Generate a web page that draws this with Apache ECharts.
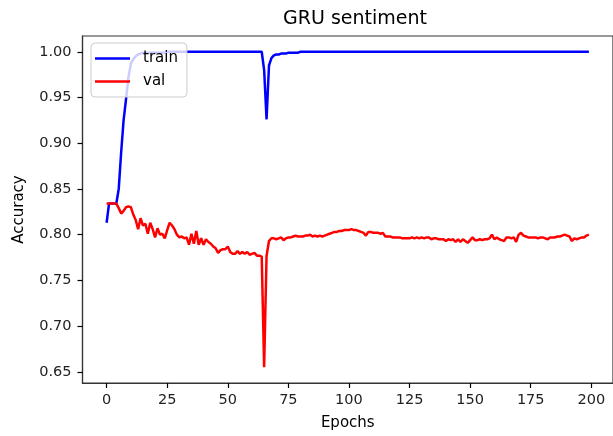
<!DOCTYPE html>
<html>
<head>
<meta charset="utf-8">
<title>GRU sentiment</title>
<script src="https://cdn.jsdelivr.net/npm/echarts@6/dist/echarts.min.js"></script>
<style>
  html, body { margin: 0; padding: 0; background: #fff; }
  #main { width: 613px; height: 436px; }
</style>
</head>
<body>
<div id="main"></div>
<script>
// accuracy per epoch
var trainAcc = [
  0.813, 0.834, 0.834, 0.834, 0.834, 0.850, 0.890, 0.925, 0.948, 0.972,
  0.987, 0.992, 0.995, 0.997, 0.998, 0.999, 0.999, 0.999, 0.999, 0.999,
  0.999, 0.999, 0.999, 0.999, 0.999, 1.000, 1.000, 1.000, 1.000, 1.000,
  1.000, 1.000, 1.000, 1.000, 1.000, 1.000, 1.000, 1.000, 1.000, 1.000,
  1.000, 1.000, 1.000, 1.000, 1.000, 1.000, 1.000, 1.000, 1.000, 1.000,
  1.000, 1.000, 1.000, 1.000, 1.000, 1.000, 1.000, 1.000, 1.000, 1.000,
  1.000, 1.000, 1.000, 1.000, 1.000, 0.980, 0.926, 0.985, 0.993, 0.996,
  0.997, 0.997, 0.998, 0.998, 0.998, 0.999, 0.999, 0.999, 0.999, 0.999,
  1.000, 1.000, 1.000, 1.000, 1.000, 1.000, 1.000, 1.000, 1.000, 1.000,
  1.000, 1.000, 1.000, 1.000, 1.000, 1.000, 1.000, 1.000, 1.000, 1.000,
  1.000, 1.000, 1.000, 1.000, 1.000, 1.000, 1.000, 1.000, 1.000, 1.000,
  1.000, 1.000, 1.000, 1.000, 1.000, 1.000, 1.000, 1.000, 1.000, 1.000,
  1.000, 1.000, 1.000, 1.000, 1.000, 1.000, 1.000, 1.000, 1.000, 1.000,
  1.000, 1.000, 1.000, 1.000, 1.000, 1.000, 1.000, 1.000, 1.000, 1.000,
  1.000, 1.000, 1.000, 1.000, 1.000, 1.000, 1.000, 1.000, 1.000, 1.000,
  1.000, 1.000, 1.000, 1.000, 1.000, 1.000, 1.000, 1.000, 1.000, 1.000,
  1.000, 1.000, 1.000, 1.000, 1.000, 1.000, 1.000, 1.000, 1.000, 1.000,
  1.000, 1.000, 1.000, 1.000, 1.000, 1.000, 1.000, 1.000, 1.000, 1.000,
  1.000, 1.000, 1.000, 1.000, 1.000, 1.000, 1.000, 1.000, 1.000, 1.000,
  1.000, 1.000, 1.000, 1.000, 1.000, 1.000, 1.000, 1.000, 1.000, 1.000
];
var valAcc = [
  0.834, 0.834, 0.834, 0.834, 0.834, 0.829, 0.823, 0.826, 0.830, 0.831,
  0.830, 0.822, 0.816, 0.806, 0.818, 0.810, 0.812, 0.801, 0.813, 0.806,
  0.797, 0.807, 0.800, 0.801, 0.796, 0.805, 0.813, 0.810, 0.806, 0.800,
  0.797, 0.798, 0.796, 0.797, 0.789, 0.801, 0.790, 0.804, 0.789, 0.796,
  0.789, 0.795, 0.792, 0.790, 0.787, 0.785, 0.780, 0.783, 0.784, 0.784,
  0.787, 0.781, 0.779, 0.779, 0.782, 0.779, 0.781, 0.779, 0.781, 0.778,
  0.779, 0.780, 0.777, 0.777, 0.776, 0.655, 0.777, 0.793, 0.796, 0.796,
  0.795, 0.796, 0.797, 0.794, 0.796, 0.797, 0.797, 0.798, 0.799, 0.798,
  0.798, 0.798, 0.799, 0.799, 0.800, 0.798, 0.799, 0.798, 0.799, 0.798,
  0.799, 0.800, 0.801, 0.802, 0.803, 0.803, 0.804, 0.804, 0.805, 0.805,
  0.805, 0.806, 0.805, 0.805, 0.804, 0.803, 0.802, 0.799, 0.803, 0.803,
  0.802, 0.802, 0.802, 0.801, 0.802, 0.798, 0.798, 0.798, 0.797, 0.797,
  0.797, 0.797, 0.796, 0.796, 0.796, 0.796, 0.797, 0.796, 0.797, 0.796,
  0.797, 0.796, 0.797, 0.797, 0.795, 0.796, 0.796, 0.795, 0.795, 0.795,
  0.793, 0.795, 0.794, 0.795, 0.792, 0.795, 0.792, 0.795, 0.793, 0.791,
  0.794, 0.797, 0.794, 0.794, 0.795, 0.794, 0.795, 0.795, 0.796, 0.800,
  0.795, 0.797, 0.795, 0.794, 0.793, 0.797, 0.797, 0.796, 0.797, 0.792,
  0.800, 0.802, 0.799, 0.798, 0.797, 0.797, 0.797, 0.797, 0.796, 0.797,
  0.797, 0.796, 0.795, 0.797, 0.797, 0.797, 0.798, 0.798, 0.799, 0.800,
  0.799, 0.798, 0.793, 0.796, 0.795, 0.796, 0.797, 0.797, 0.799, 0.800
];
var xTicks = [0, 25, 50, 75, 100, 125, 150, 175, 200];
var yTicks = [0.65, 0.70, 0.75, 0.80, 0.85, 0.90, 0.95, 1.00];

function pairs(vals) {
  return vals.map(function (v, i) { return [i, v]; });
}

var font = 'DejaVu Sans';
var spine = { color: '#333', width: 1.2 };
var myChart = echarts.init(document.getElementById('main'));

option = {
  backgroundColor: '#fff',
  animation: false,
  title: {
    text: 'GRU sentiment',
    left: 350,
    textAlign: 'center',
    top: 5,
    textStyle: { fontFamily: font, fontSize: 19, fontWeight: 'normal', color: '#000' }
  },
  legend: {
    orient: 'vertical',
    left: 91,
    top: 43,
    padding: [7, 9, 7, 4],
    itemGap: 6,
    itemWidth: 35,
    itemHeight: 2.5,
    icon: 'rect',
    backgroundColor: 'rgba(255,255,255,0.8)',
    borderColor: '#cccccc',
    borderWidth: 1,
    borderRadius: 4,
    textStyle: { fontFamily: font, fontSize: 15, color: '#000', lineHeight: 17, padding: [0, 0, 0, 8] },
    data: ['train', 'val']
  },
  grid: {
    left: 82.5,
    right: -7,
    top: 36,
    bottom: 52,
    show: true,
    borderColor: '#333',
    borderWidth: 1.2,
    backgroundColor: 'transparent'
  },
  xAxis: {
    type: 'value',
    min: -9.95,
    max: 208.95,
    name: 'Epochs',
    nameLocation: 'middle',
    nameGap: 33,
    nameTextStyle: { fontFamily: font, fontSize: 15, color: '#000' },
    axisLine: { show: true, onZero: false, lineStyle: spine },
    splitLine: { show: false },
    axisTick: {
      show: true,
      customValues: xTicks,
      length: 5,
      lineStyle: { color: '#000', width: 1.2 }
    },
    axisLabel: {
      customValues: xTicks,
      margin: 10,
      fontFamily: font,
      fontSize: 14.5,
      color: '#222'
    }
  },
  yAxis: {
    type: 'value',
    min: 0.63775,
    max: 1.01725,
    name: 'Accuracy',
    nameLocation: 'middle',
    nameRotate: 90,
    nameGap: 56,
    nameTextStyle: { fontFamily: font, fontSize: 15, color: '#000' },
    axisLine: { show: true, onZero: false, lineStyle: spine },
    splitLine: { show: false },
    axisTick: {
      show: true,
      customValues: yTicks,
      length: 5,
      lineStyle: { color: '#000', width: 1.2 }
    },
    axisLabel: {
      customValues: yTicks,
      margin: 11,
      fontFamily: font,
      fontSize: 14.5,
      color: '#222',
      formatter: function (v) { return v.toFixed(2); }
    }
  },
  series: [
    {
      name: 'train',
      type: 'line',
      data: pairs(trainAcc),
      symbol: 'none',
      color: '#0000ff',
      lineStyle: { color: '#0000ff', width: 2.5 }
    },
    {
      name: 'val',
      type: 'line',
      data: pairs(valAcc),
      symbol: 'none',
      color: '#ff0000',
      lineStyle: { color: '#ff0000', width: 2.5 }
    }
  ]
};

myChart.setOption(option);
</script>
</body>
</html>
